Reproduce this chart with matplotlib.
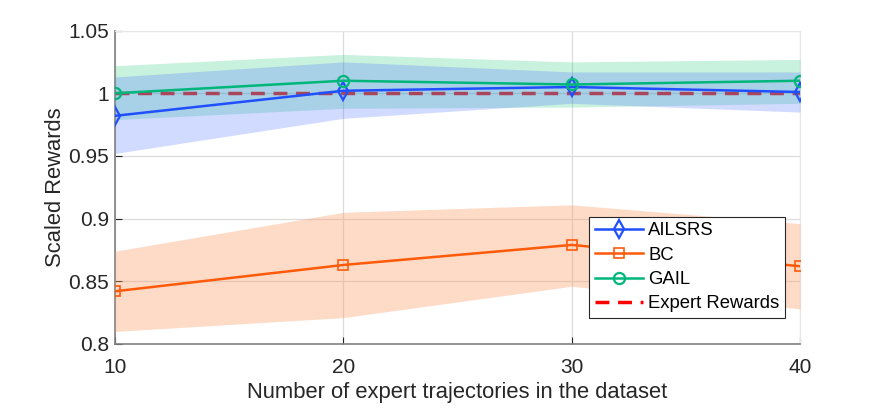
import matplotlib
matplotlib.use('Agg')
import matplotlib.pyplot as plt
import numpy as np

plt.rcParams['font.family'] = ['Liberation Sans', 'DejaVu Sans']

# Data
x = [10, 20, 30, 40]

ailsrs = [0.982, 1.002, 1.005, 1.001]
ailsrs_hi = [1.013, 1.025, 1.017, 1.017]
ailsrs_lo = [0.952, 0.980, 0.992, 0.985]

bc = [0.842, 0.863, 0.879, 0.862]
bc_hi = [0.874, 0.905, 0.911, 0.896]
bc_lo = [0.810, 0.821, 0.846, 0.828]

gail = [1.000, 1.010, 1.007, 1.010]
gail_hi = [1.022, 1.031, 1.025, 1.027]
gail_lo = [0.979, 0.988, 0.989, 0.992]

expert = [1.0, 1.0, 1.0, 1.0]

c_blue = '#1f4fff'
c_orange = '#ff5a0a'
c_green = '#00b67a'

fig = plt.figure(figsize=(8.84, 4.08), dpi=100)
ax = fig.add_axes([0.130, 0.157, 0.775, 0.768])

# expert line sits under the shaded bands (as in the original)
l4, = ax.plot(x, expert, '--', color='red', linewidth=2.5, dashes=(4, 2.5), zorder=2,
              label='Expert Rewards')

ax.fill_between(x, gail_lo, gail_hi, color='#3ad08a', alpha=0.28, linewidth=0, zorder=3)
ax.fill_between(x, ailsrs_lo, ailsrs_hi, color='#4a6eff', alpha=0.25, linewidth=0, zorder=3)
ax.fill_between(x, bc_lo, bc_hi, color='#fa9a60', alpha=0.35, linewidth=0, zorder=3)

l1, = ax.plot(x, ailsrs, '-', color=c_blue, linewidth=1.8, marker='d', markersize=9,
              markerfacecolor='none', markeredgewidth=1.6, zorder=5, label='AILSRS')
l2, = ax.plot(x, bc, '-', color=c_orange, linewidth=1.8, marker='s', markersize=7,
              markerfacecolor='none', markeredgewidth=1.2, zorder=5, label='BC')
l3, = ax.plot(x, gail, '-', color=c_green, linewidth=1.8, marker='o', markersize=8,
              markerfacecolor='none', markeredgewidth=1.6, zorder=5, label='GAIL')

ax.set_xlim(10, 40)
ax.set_ylim(0.8, 1.05)
ax.set_xticks([10, 20, 30, 40])
ax.set_yticks([0.8, 0.85, 0.9, 0.95, 1.0, 1.05])
ax.set_yticklabels(['0.8', '0.85', '0.9', '0.95', '1', '1.05'])

ax.grid(True, color='#dcdcdc', linewidth=0.9)
ax.set_axisbelow(True)
ax.tick_params(direction='in', length=5, colors='#262626', labelsize=15)
ax.tick_params(axis='x', pad=10)
ax.tick_params(axis='y', pad=4)
for side in ['left', 'bottom']:
    ax.spines[side].set_color('#808080')
    ax.spines[side].set_linewidth(1.2)
for side in ['top', 'right']:
    ax.spines[side].set_color('#e6e6e6')

ax.set_xlabel('Number of expert trajectories in the dataset', fontsize=15.8,
              color='#262626', labelpad=4)
ax.set_ylabel('Scaled Rewards', fontsize=15.8, color='#262626', labelpad=2)

leg = ax.legend(handles=[l1, l2, l3, l4], loc='upper left', bbox_to_anchor=(0.692, 0.406),
                fontsize=13.3, frameon=True, fancybox=False, handlelength=2.6,
                borderpad=0.3, labelspacing=0.4, handletextpad=0.3, borderaxespad=0,
                framealpha=1)
leg.get_frame().set_edgecolor('#262626')
leg.get_frame().set_linewidth(0.8)
leg.set_zorder(10)

fig.savefig('out.png', dpi=100)
